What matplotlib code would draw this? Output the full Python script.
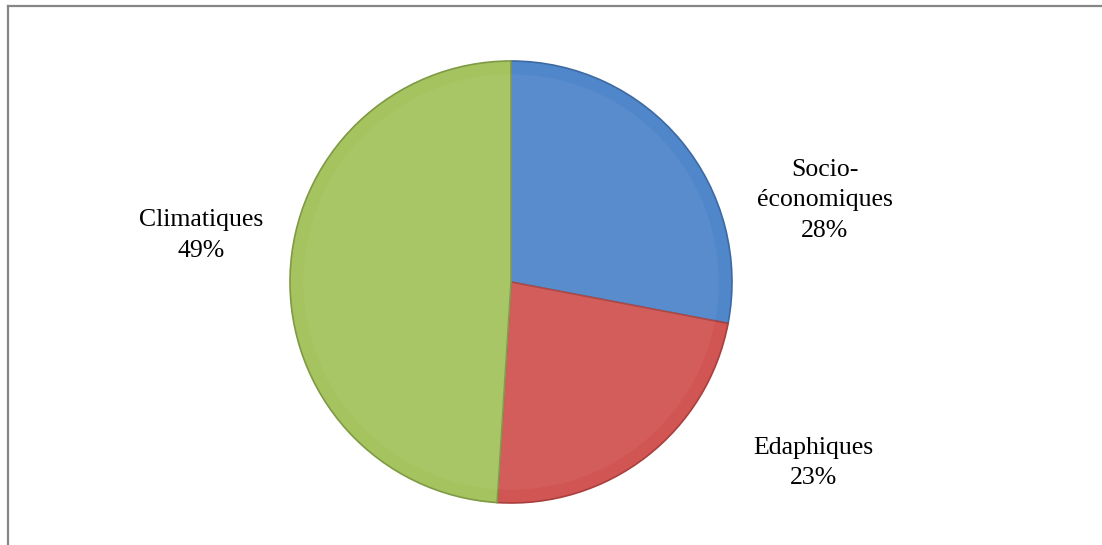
import matplotlib.pyplot as plt
from matplotlib.lines import Line2D

categories = ["Socio-\néconomiques", "Edaphiques", "Climatiques"]
values = [28, 23, 49]
colors = ["#5086ca", "#d05553", "#a5c35e"]
edge_colors = ["#3d6aa3", "#a8403e", "#7f9a45"]
# label anchor points in pie radius units
label_pos = [(1.42, 0.37), (1.37, -0.82), (-1.40, 0.21)]

plt.rcParams["font.family"] = ["Liberation Serif", "DejaVu Serif"]

fig = plt.figure(figsize=(11.02, 5.45), dpi=100)
W, H = 1102, 545
cx, cy, r = 511, 282, 221
ax = fig.add_axes([(cx - r) / W, (H - cy - r) / H, 2 * r / W, 2 * r / H])

wedges, _ = ax.pie(values, colors=colors, startangle=90, counterclock=False,
                   radius=1, wedgeprops=dict(linewidth=1.2))
for w, ec in zip(wedges, edge_colors):
    w.set_edgecolor(ec)

# slightly lighter inner part for a bevel look
inner, _ = ax.pie(values, colors=["white"] * 3, startangle=90, counterclock=False,
                  radius=0.94, wedgeprops=dict(linewidth=0, alpha=0.05))

for name, v, (x, y) in zip(categories, values, label_pos):
    ax.text(x, y, f"{name}\n{v}%", ha="center", va="center", fontsize=18.5,
            linespacing=1.5)

ax.set_xlim(-1, 1)
ax.set_ylim(-1, 1)
ax.set_aspect("equal")
ax.axis("off")

# chart frame (cropped: only top and left visible)
fig.add_artist(Line2D([7.5 / W, 1], [1 - 6 / H, 1 - 6 / H], color="#868686", lw=1.6,
                      transform=fig.transFigure))
fig.add_artist(Line2D([7.5 / W, 7.5 / W], [0, 1 - 6 / H], color="#868686", lw=1.6,
                      transform=fig.transFigure))

fig.savefig("out.png", dpi=100)
